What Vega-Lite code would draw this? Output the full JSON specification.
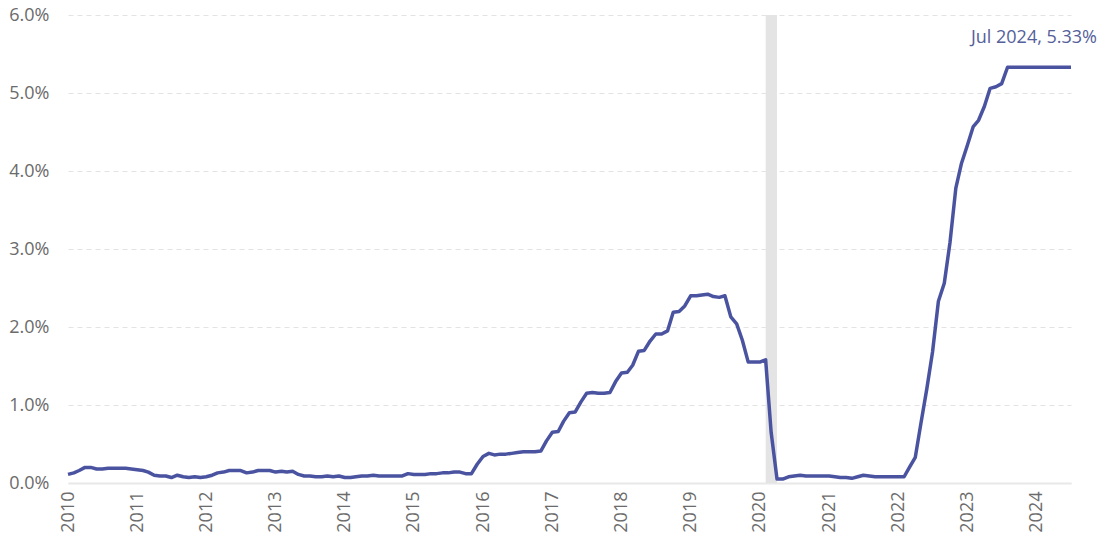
{
  "$schema": "https://vega.github.io/schema/vega-lite/v6.json",
  "autosize": "none",
  "width": 1003,
  "height": 468,
  "padding": {"left": 68, "top": 15, "right": 29, "bottom": 61},
  "background": "white",
  "config": {
    "view": {"stroke": null},
    "font": "Open Sans",
    "axis": {"labelFont": "Open Sans", "labelColor": "#6b6b6b", "labelFontSize": 18}
  },
  "datasets": {
    "rates": [
      {"date":"2010-01-01","rate":0.11},{"date":"2010-02-01","rate":0.13},{"date":"2010-03-01","rate":0.16},{"date":"2010-04-01","rate":0.20},{"date":"2010-05-01","rate":0.20},{"date":"2010-06-01","rate":0.18},{"date":"2010-07-01","rate":0.18},{"date":"2010-08-01","rate":0.19},{"date":"2010-09-01","rate":0.19},{"date":"2010-10-01","rate":0.19},{"date":"2010-11-01","rate":0.19},{"date":"2010-12-01","rate":0.18},
      {"date":"2011-01-01","rate":0.17},{"date":"2011-02-01","rate":0.16},{"date":"2011-03-01","rate":0.14},{"date":"2011-04-01","rate":0.10},{"date":"2011-05-01","rate":0.09},{"date":"2011-06-01","rate":0.09},{"date":"2011-07-01","rate":0.07},{"date":"2011-08-01","rate":0.10},{"date":"2011-09-01","rate":0.08},{"date":"2011-10-01","rate":0.07},{"date":"2011-11-01","rate":0.08},{"date":"2011-12-01","rate":0.07},
      {"date":"2012-01-01","rate":0.08},{"date":"2012-02-01","rate":0.10},{"date":"2012-03-01","rate":0.13},{"date":"2012-04-01","rate":0.14},{"date":"2012-05-01","rate":0.16},{"date":"2012-06-01","rate":0.16},{"date":"2012-07-01","rate":0.16},{"date":"2012-08-01","rate":0.13},{"date":"2012-09-01","rate":0.14},{"date":"2012-10-01","rate":0.16},{"date":"2012-11-01","rate":0.16},{"date":"2012-12-01","rate":0.16},
      {"date":"2013-01-01","rate":0.14},{"date":"2013-02-01","rate":0.15},{"date":"2013-03-01","rate":0.14},{"date":"2013-04-01","rate":0.15},{"date":"2013-05-01","rate":0.11},{"date":"2013-06-01","rate":0.09},{"date":"2013-07-01","rate":0.09},{"date":"2013-08-01","rate":0.08},{"date":"2013-09-01","rate":0.08},{"date":"2013-10-01","rate":0.09},{"date":"2013-11-01","rate":0.08},{"date":"2013-12-01","rate":0.09},
      {"date":"2014-01-01","rate":0.07},{"date":"2014-02-01","rate":0.07},{"date":"2014-03-01","rate":0.08},{"date":"2014-04-01","rate":0.09},{"date":"2014-05-01","rate":0.09},{"date":"2014-06-01","rate":0.10},{"date":"2014-07-01","rate":0.09},{"date":"2014-08-01","rate":0.09},{"date":"2014-09-01","rate":0.09},{"date":"2014-10-01","rate":0.09},{"date":"2014-11-01","rate":0.09},{"date":"2014-12-01","rate":0.12},
      {"date":"2015-01-01","rate":0.11},{"date":"2015-02-01","rate":0.11},{"date":"2015-03-01","rate":0.11},{"date":"2015-04-01","rate":0.12},{"date":"2015-05-01","rate":0.12},{"date":"2015-06-01","rate":0.13},{"date":"2015-07-01","rate":0.13},{"date":"2015-08-01","rate":0.14},{"date":"2015-09-01","rate":0.14},{"date":"2015-10-01","rate":0.12},{"date":"2015-11-01","rate":0.12},{"date":"2015-12-01","rate":0.24},
      {"date":"2016-01-01","rate":0.34},{"date":"2016-02-01","rate":0.38},{"date":"2016-03-01","rate":0.36},{"date":"2016-04-01","rate":0.37},{"date":"2016-05-01","rate":0.37},{"date":"2016-06-01","rate":0.38},{"date":"2016-07-01","rate":0.39},{"date":"2016-08-01","rate":0.40},{"date":"2016-09-01","rate":0.40},{"date":"2016-10-01","rate":0.40},{"date":"2016-11-01","rate":0.41},{"date":"2016-12-01","rate":0.54},
      {"date":"2017-01-01","rate":0.65},{"date":"2017-02-01","rate":0.66},{"date":"2017-03-01","rate":0.79},{"date":"2017-04-01","rate":0.90},{"date":"2017-05-01","rate":0.91},{"date":"2017-06-01","rate":1.04},{"date":"2017-07-01","rate":1.15},{"date":"2017-08-01","rate":1.16},{"date":"2017-09-01","rate":1.15},{"date":"2017-10-01","rate":1.15},{"date":"2017-11-01","rate":1.16},{"date":"2017-12-01","rate":1.30},
      {"date":"2018-01-01","rate":1.41},{"date":"2018-02-01","rate":1.42},{"date":"2018-03-01","rate":1.51},{"date":"2018-04-01","rate":1.69},{"date":"2018-05-01","rate":1.70},{"date":"2018-06-01","rate":1.82},{"date":"2018-07-01","rate":1.91},{"date":"2018-08-01","rate":1.91},{"date":"2018-09-01","rate":1.95},{"date":"2018-10-01","rate":2.19},{"date":"2018-11-01","rate":2.20},{"date":"2018-12-01","rate":2.27},
      {"date":"2019-01-01","rate":2.40},{"date":"2019-02-01","rate":2.40},{"date":"2019-03-01","rate":2.41},{"date":"2019-04-01","rate":2.42},{"date":"2019-05-01","rate":2.39},{"date":"2019-06-01","rate":2.38},{"date":"2019-07-01","rate":2.40},{"date":"2019-08-01","rate":2.13},{"date":"2019-09-01","rate":2.04},{"date":"2019-10-01","rate":1.83},{"date":"2019-11-01","rate":1.55},{"date":"2019-12-01","rate":1.55},
      {"date":"2020-01-01","rate":1.55},{"date":"2020-02-01","rate":1.58},{"date":"2020-03-01","rate":0.65},{"date":"2020-04-01","rate":0.05},{"date":"2020-05-01","rate":0.05},{"date":"2020-06-01","rate":0.08},{"date":"2020-07-01","rate":0.09},{"date":"2020-08-01","rate":0.10},{"date":"2020-09-01","rate":0.09},{"date":"2020-10-01","rate":0.09},{"date":"2020-11-01","rate":0.09},{"date":"2020-12-01","rate":0.09},
      {"date":"2021-01-01","rate":0.09},{"date":"2021-02-01","rate":0.08},{"date":"2021-03-01","rate":0.07},{"date":"2021-04-01","rate":0.07},{"date":"2021-05-01","rate":0.06},{"date":"2021-06-01","rate":0.08},{"date":"2021-07-01","rate":0.10},{"date":"2021-08-01","rate":0.09},{"date":"2021-09-01","rate":0.08},{"date":"2021-10-01","rate":0.08},{"date":"2021-11-01","rate":0.08},{"date":"2021-12-01","rate":0.08},
      {"date":"2022-01-01","rate":0.08},{"date":"2022-02-01","rate":0.08},{"date":"2022-03-01","rate":0.20},{"date":"2022-04-01","rate":0.33},{"date":"2022-05-01","rate":0.77},{"date":"2022-06-01","rate":1.21},{"date":"2022-07-01","rate":1.68},{"date":"2022-08-01","rate":2.33},{"date":"2022-09-01","rate":2.56},{"date":"2022-10-01","rate":3.08},{"date":"2022-11-01","rate":3.78},{"date":"2022-12-01","rate":4.10},
      {"date":"2023-01-01","rate":4.33},{"date":"2023-02-01","rate":4.57},{"date":"2023-03-01","rate":4.65},{"date":"2023-04-01","rate":4.83},{"date":"2023-05-01","rate":5.06},{"date":"2023-06-01","rate":5.08},{"date":"2023-07-01","rate":5.12},{"date":"2023-08-01","rate":5.33},{"date":"2023-09-01","rate":5.33},{"date":"2023-10-01","rate":5.33},{"date":"2023-11-01","rate":5.33},{"date":"2023-12-01","rate":5.33},
      {"date":"2024-01-01","rate":5.33},{"date":"2024-02-01","rate":5.33},{"date":"2024-03-01","rate":5.33},{"date":"2024-04-01","rate":5.33},{"date":"2024-05-01","rate":5.33},{"date":"2024-06-01","rate":5.33},{"date":"2024-07-01","rate":5.33}
    ],
    "recession": [{"start":"2020-02-01","end":"2020-04-01","top":6.0,"bottom":0}],
    "label": [{"date":"2024-07-01","rate":5.33,"text":"Jul 2024, 5.33%"}]
  },
  "layer": [
    {
      "data": {"name": "recession"},
      "mark": {"type": "rect", "color": "#e4e4e4"},
      "encoding": {
        "x": {"field": "start", "type": "temporal", "scale": {"type": "utc"}},
        "x2": {"field": "end"},
        "y": {"field": "bottom", "type": "quantitative"},
        "y2": {"field": "top"}
      }
    },
    {
      "data": {"name": "rates"},
      "mark": {"type": "line", "color": "#4a53a0", "strokeWidth": 3.5, "strokeJoin": "round"},
      "encoding": {
        "x": {
          "field": "date", "type": "temporal",
          "scale": {"type": "utc", "domain": [{"year": 2010, "month": 1, "date": 1, "utc": true}, {"year": 2024, "month": 7, "date": 1, "utc": true}]},
          "axis": {
            "title": null, "format": "%Y", "formatType": "utc", "labelAngle": -90, "labelAlign": "right", "labelBaseline": "middle",
            "labelPadding": 8, "ticks": false, "grid": false, "domain": true, "domainColor": "#e8e8e8", "domainWidth": 2,
            "values": [
              {"year": 2010, "utc": true},{"year": 2011, "utc": true},{"year": 2012, "utc": true},{"year": 2013, "utc": true},{"year": 2014, "utc": true},
              {"year": 2015, "utc": true},{"year": 2016, "utc": true},{"year": 2017, "utc": true},{"year": 2018, "utc": true},{"year": 2019, "utc": true},
              {"year": 2020, "utc": true},{"year": 2021, "utc": true},{"year": 2022, "utc": true},{"year": 2023, "utc": true},{"year": 2024, "utc": true}
            ]
          }
        },
        "y": {
          "field": "rate", "type": "quantitative",
          "scale": {"domain": [0, 6], "nice": false, "zero": true},
          "axis": {
            "title": null, "values": [0, 1, 2, 3, 4, 5, 6], "labelExpr": "format(datum.value, '.1f') + '%'",
            "ticks": false, "domain": false, "labelPadding": 19,
            "grid": true, "gridColor": "#e3e3e3", "gridDash": [5, 4], "gridWidth": 1
          }
        }
      }
    },
    {
      "data": {"name": "label"},
      "mark": {"type": "text", "align": "right", "baseline": "middle", "dx": 26, "dy": -29, "fontSize": 18, "color": "#55609a", "font": "Open Sans"},
      "encoding": {
        "x": {"field": "date", "type": "temporal"},
        "y": {"field": "rate", "type": "quantitative"},
        "text": {"field": "text"}
      }
    }
  ]
}
